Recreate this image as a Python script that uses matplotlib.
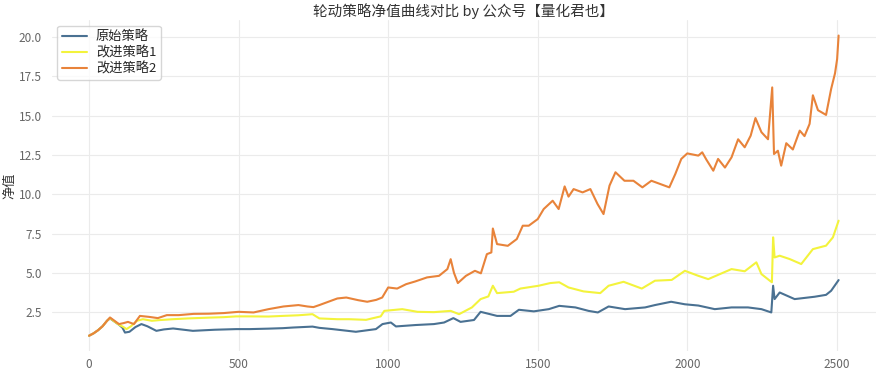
import matplotlib
matplotlib.use("Agg")
import matplotlib.pyplot as plt
import seaborn as sns

# values (index, net value)
base_x = [0, 15, 30, 45, 60, 70, 85, 100, 112, 120, 135, 155, 175, 195, 225, 250, 281, 347, 420,
          492, 537, 600, 648, 681, 747, 770, 814, 892, 959, 981, 1009, 1026, 1092, 1153, 1187,
          1218, 1242, 1287, 1309, 1364, 1409, 1437, 1487, 1537, 1572, 1626, 1670, 1701, 1737,
          1792, 1859, 1892, 1946, 1992, 2037, 2092, 2148, 2203, 2248, 2281, 2287, 2292, 2309,
          2359, 2426, 2464, 2481, 2506]
base_y = [1.0, 1.15, 1.35, 1.6, 1.95, 2.1, 1.9, 1.7, 1.5, 1.2, 1.25, 1.55, 1.74, 1.6, 1.31, 1.4,
          1.46, 1.31, 1.38, 1.42, 1.42, 1.45, 1.48, 1.52, 1.58, 1.5, 1.42, 1.25, 1.42, 1.74, 1.84,
          1.59, 1.68, 1.74, 1.84, 2.12, 1.88, 2.0, 2.52, 2.26, 2.26, 2.65, 2.55, 2.69, 2.9, 2.8,
          2.58, 2.48, 2.86, 2.69, 2.8, 2.95, 3.16, 3.0, 2.92, 2.69, 2.8, 2.8, 2.69, 2.48, 4.18,
          3.33, 3.75, 3.33, 3.48, 3.6, 3.86, 4.54]

imp1_x = [0, 15, 30, 45, 60, 70, 85, 100, 115, 125, 140, 160, 180, 210, 240, 280, 330, 400, 450,
          492, 537, 600, 647, 700, 747, 770, 830, 870, 926, 975, 987, 1047, 1098, 1153, 1209,
          1237, 1280, 1309, 1335, 1350, 1364, 1420, 1442, 1503, 1542, 1572, 1603, 1653, 1709,
          1737, 1787, 1848, 1892, 1948, 1992, 2037, 2070, 2148, 2192, 2231, 2248, 2276, 2283,
          2287, 2292, 2309, 2342, 2381, 2420, 2464, 2487, 2506]
imp1_y = [1.0, 1.15, 1.35, 1.6, 1.95, 2.12, 1.9, 1.7, 1.55, 1.42, 1.6, 1.95, 2.05, 1.95, 2.0,
          2.05, 2.1, 2.15, 2.18, 2.23, 2.23, 2.22, 2.26, 2.3, 2.37, 2.1, 2.05, 2.05, 2.01, 2.23,
          2.58, 2.69, 2.52, 2.5, 2.58, 2.37, 2.8, 3.33, 3.5, 4.18, 3.71, 3.8, 4.0, 4.18, 4.35,
          4.4, 4.07, 3.82, 3.71, 4.18, 4.43, 4.0, 4.5, 4.55, 5.13, 4.81, 4.6, 5.24, 5.1, 5.67,
          4.92, 4.5, 4.4, 7.26, 5.98, 6.09, 5.88, 5.56, 6.51, 6.73, 7.26, 8.32]

imp2_x = [0, 15, 30, 45, 60, 70, 85, 100, 115, 130, 150, 170, 200, 230, 260, 300, 350, 400, 450,
          500, 550, 600, 650, 700, 730, 750, 770, 800, 830, 860, 900, 930, 960, 980, 1000, 1030,
          1060, 1090, 1130, 1170, 1198, 1209, 1220, 1233, 1260, 1290, 1310, 1330, 1345, 1350,
          1364, 1400, 1430, 1450, 1470, 1500, 1520, 1550, 1570, 1590, 1603, 1620, 1650, 1676,
          1700, 1720, 1740, 1760, 1790, 1820, 1850, 1880, 1910, 1940, 1960, 1980, 2000, 2037,
          2050, 2064, 2087, 2103, 2126, 2148, 2170, 2192, 2212, 2228, 2248, 2270, 2284, 2290,
          2303, 2314, 2331, 2353, 2376, 2392, 2409, 2420, 2437, 2464, 2481, 2494, 2501, 2506]
imp2_y = [1.0, 1.15, 1.35, 1.6, 1.95, 2.16, 1.95, 1.74, 1.8, 1.88, 1.74, 2.26, 2.2, 2.12, 2.31,
          2.31, 2.39, 2.4, 2.44, 2.52, 2.48, 2.69, 2.86, 2.95, 2.86, 2.82, 2.95, 3.16, 3.37, 3.43,
          3.26, 3.16, 3.28, 3.43, 4.07, 4.0, 4.28, 4.45, 4.71, 4.81, 5.24, 5.87, 5.0, 4.35, 4.81,
          5.13, 4.97, 6.19, 6.3, 7.82, 6.83, 6.72, 7.15, 8.0, 8.0, 8.42, 9.06, 9.59, 9.06, 10.5,
          9.85, 10.33, 10.12, 10.33, 9.38, 8.74, 10.55, 11.4, 10.86, 10.86, 10.44, 10.86, 10.65,
          10.44, 11.29, 12.25, 12.6, 12.46, 12.67, 12.2, 11.5, 12.25, 11.7, 12.35, 13.5, 12.99,
          13.73, 14.85, 13.95, 13.5, 16.8, 12.56, 12.77, 11.82, 13.25, 12.85, 14.05, 13.7, 14.48,
          16.3, 15.35, 15.05, 16.7, 17.7, 18.6, 20.1]

labels = ["原始策略", "改进策略1", "改进策略2"]
colors = ["#4a7192", "#f3f33c", "#e8833a"]

sns.set_style("whitegrid")
plt.rcParams["font.family"] = ["Noto Sans CJK SC", "DejaVu Sans"]
plt.rcParams["axes.unicode_minus"] = False

fig = plt.figure(figsize=(8.76, 3.72), dpi=100)
ax = fig.add_axes([0.059, 0.057, 0.941, 0.888])

series = [(base_x, base_y), (imp1_x, imp1_y), (imp2_x, imp2_y)]
for (xs, ys), lab, col in zip(series, labels, colors):
    ax.plot(xs, ys, color=col, lw=1.5, label=lab)

ax.set_xlim(-125, 2631)
ax.set_ylim(0.04, 21.06)
ax.set_xticks([0, 500, 1000, 1500, 2000, 2500])
ax.set_yticks([2.5, 5.0, 7.5, 10.0, 12.5, 15.0, 17.5, 20.0])
ax.grid(color="#ebebeb", lw=0.8)
for s in ax.spines.values():
    s.set_visible(False)
ax.tick_params(axis="both", length=0, labelsize=8.5, labelcolor="#666666")
ax.tick_params(axis="y", pad=7)
ax.tick_params(axis="x", pad=5)

ax.set_title("轮动策略净值曲线对比 by 公众号【量化君也】", fontsize=10.5, color="#333333", pad=3)
ax.set_ylabel("净值", fontsize=9.5, color="#333333", labelpad=2)

leg = ax.legend(loc="upper left", fontsize=9.5, frameon=True, borderaxespad=0.4,
                handlelength=1.9, handletextpad=0.7, labelspacing=0.2, borderpad=0.35)
leg.get_frame().set_edgecolor("#cccccc")

fig.savefig("out.png", dpi=100)
